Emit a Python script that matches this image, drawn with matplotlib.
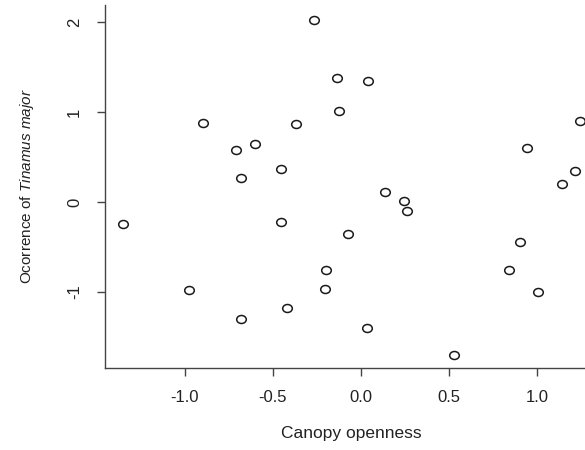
import matplotlib.pyplot as plt
from matplotlib.path import Path
from matplotlib.transforms import Affine2D

plt.rcParams['font.family'] = ['Liberation Sans', 'DejaVu Sans']
plt.rcParams['mathtext.fontset'] = 'custom'
plt.rcParams['mathtext.rm'] = 'Liberation Sans'
plt.rcParams['mathtext.it'] = 'Liberation Sans:italic'

# canopy openness vs occurrence
canopy = [-1.35, -0.975, -0.898, -0.710, -0.684, -0.680, -0.600, -0.455, -0.453, -0.419,
          -0.371, -0.265, -0.134, -0.123, -0.199, -0.206, -0.072, 0.038, 0.032, 0.135,
          0.244, 0.263, 0.528, 0.839, 0.903, 0.943, 1.008, 1.142, 1.214, 1.244]
occurrence = [-0.248, -0.978, 0.874, 0.578, 0.267, -1.296, 0.644, 0.363, -0.222, -1.178,
              0.867, 2.022, 1.381, 1.007, -0.759, -0.963, -0.352, 1.348, -1.404, 0.115,
              0.011, -0.104, -1.70, -0.752, -0.441, 0.596, -0.996, 0.204, 0.341, 0.90]

xticks = [-1.0, -0.5, 0.0, 0.5, 1.0]
yticks = [-1, 0, 1, 2]

# the reference is a bit stretched sideways, so the circles are slightly wide
oval = Path.unit_circle().transformed(Affine2D().scale(1.2, 1.0))

fig = plt.figure(figsize=(5.85, 4.5), dpi=100)
ax = fig.add_axes([0.1795, 0.1822, 0.846, 0.8067])

ax.plot(canopy, occurrence, linestyle='none', marker=oval, markersize=6.9,
        markerfacecolor='white', markeredgecolor='#1a1a1a', markeredgewidth=1.1,
        clip_on=False)

ax.set_xlim(-1.4545, 1.358)
ax.set_ylim(-1.844, 2.189)

ax.spines['top'].set_visible(False)
ax.spines['right'].set_visible(False)
for s in ['left', 'bottom']:
    ax.spines[s].set_color('#444444')
    ax.spines[s].set_linewidth(1.0)

ax.set_xticks(xticks)
ax.set_xticklabels(['%.1f' % v for v in xticks])
ax.set_yticks(yticks)
ax.set_yticklabels([str(v) for v in yticks], rotation=90, va='center')
ax.tick_params(axis='both', direction='out', length=5.5, width=1.0, color='#444444',
               labelcolor='#222222')
ax.tick_params(axis='x', pad=10.5, labelsize=12)
ax.tick_params(axis='y', pad=11, labelsize=12)

ax.set_xlabel('Canopy openness', fontsize=12.5, color='#222222')
ax.set_ylabel(r'Ocorrence of $\mathit{Tinamus\ major}$', fontsize=11, color='#222222')
ax.xaxis.set_label_coords(0.498, -0.16)
ax.yaxis.set_label_coords(-0.139, 0.5)

fig.savefig('out.png', dpi=100)
